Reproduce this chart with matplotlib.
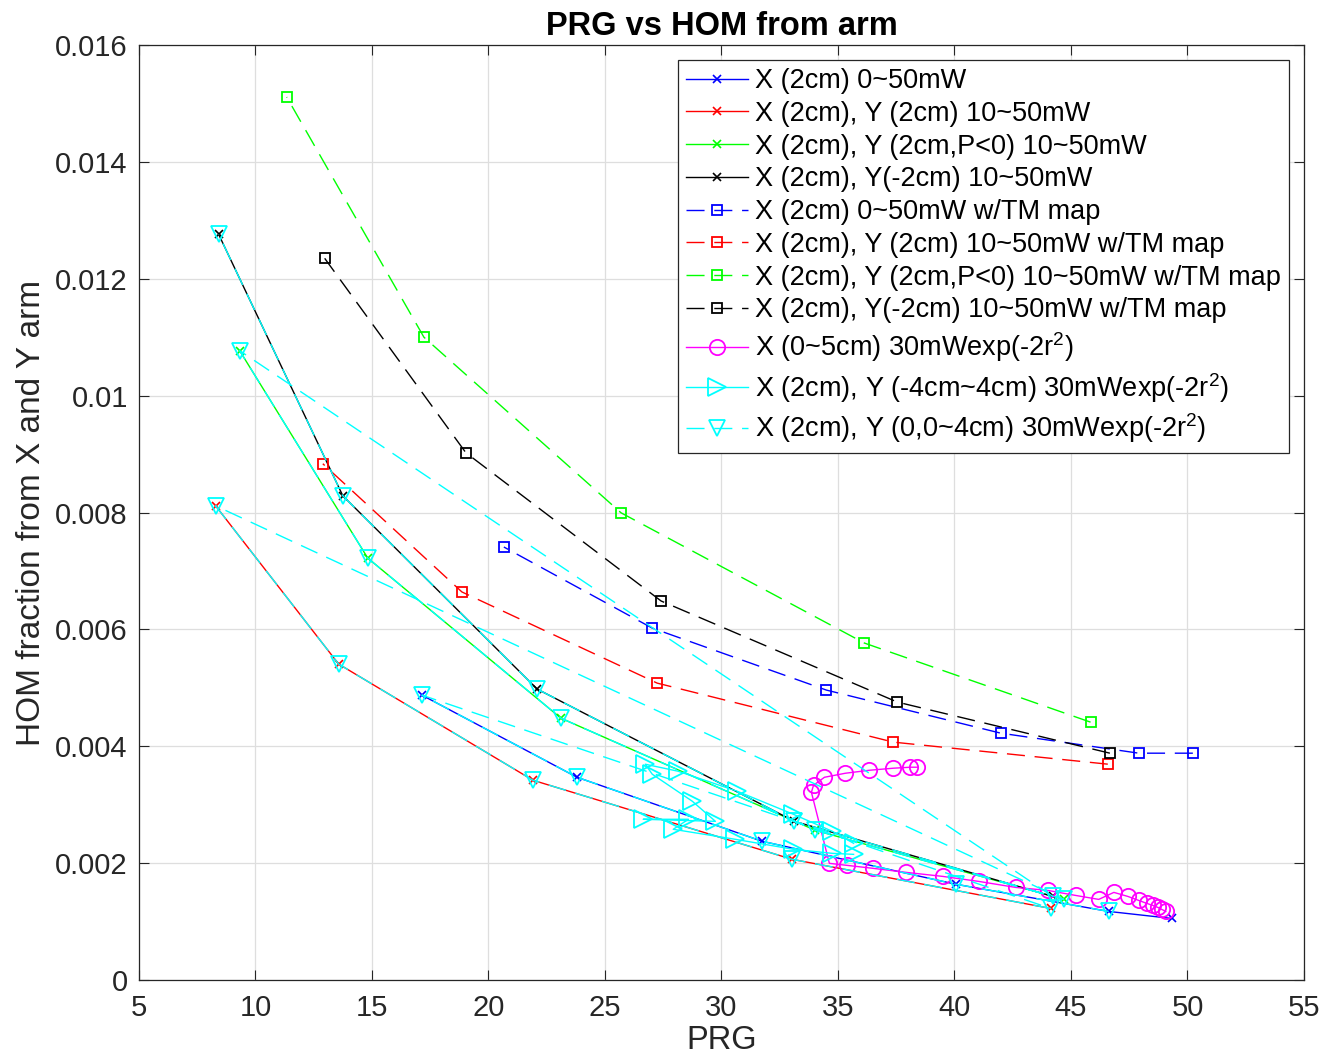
import numpy as np
import matplotlib
matplotlib.use("Agg")
import matplotlib.pyplot as plt

plt.rcParams['font.family'] = ['Liberation Sans', 'DejaVu Sans']
plt.rcParams['mathtext.fontset'] = 'custom'
plt.rcParams['mathtext.rm'] = 'Liberation Sans'
plt.rcParams['mathtext.it'] = 'Liberation Sans:italic'

# power sweeps, listed from lowest power (high PRG) to 50mW (low PRG)
blue_x_prg = [49.33, 46.62, 40.05, 31.75, 23.80, 17.14]
blue_x_hom = [0.001054, 0.001174, 0.00164, 0.002374, 0.00347, 0.004876]
red_x_prg = [44.13, 33.04, 21.91, 13.57, 8.29]
red_x_hom = [0.001225, 0.002065, 0.003419, 0.005407, 0.008115]
green_x_prg = [44.69, 34.03, 23.11, 14.82, 9.32]
green_x_hom = [0.00138, 0.002562, 0.004481, 0.00722, 0.01077]
black_x_prg = [44.22, 33.13, 22.09, 13.75, 8.42]
black_x_hom = [0.001431, 0.002716, 0.004979, 0.008286, 0.01276]

# with TM map
blue_sq_prg = [50.23, 47.91, 41.98, 34.50, 27.02, 20.66]
blue_sq_hom = [0.003882, 0.003882, 0.004225, 0.004962, 0.006024, 0.00741]
red_sq_prg = [46.58, 37.38, 27.24, 18.86, 12.89]
red_sq_hom = [0.003694, 0.004071, 0.005081, 0.006641, 0.008835]
green_sq_prg = [45.84, 36.13, 25.69, 17.23, 11.34]
green_sq_hom = [0.004413, 0.005767, 0.007995, 0.0110, 0.01511]
black_sq_prg = [46.67, 37.55, 27.41, 19.03, 12.97]
black_sq_hom = [0.003882, 0.004756, 0.006486, 0.009023, 0.01235]

# X (0~5cm) 30mW gaussian
mag_prg = [49.07, 48.90, 48.73, 48.51, 48.26, 47.91, 47.44, 46.84, 46.19, 45.20,
           44.00, 42.63, 41.04, 39.49, 37.94, 36.52, 35.40, 34.63, 33.86, 33.95,
           34.42, 35.32, 36.35, 37.38, 38.11, 38.41]
mag_hom = [0.001174, 0.001208, 0.001243, 0.001277, 0.001311, 0.001362, 0.001431,
           0.0015, 0.00138, 0.001448, 0.001534, 0.001585, 0.001688, 0.001774,
           0.001842, 0.001911, 0.001962, 0.001997, 0.003213, 0.003333, 0.00347,
           0.003539, 0.00359, 0.003625, 0.003642, 0.003642]

# X (2cm), Y (-4cm~4cm) 30mW gaussian
tri_prg = [35.67, 34.76, 33.09, 30.68, 28.14, 26.73, 27.03, 28.75, 29.74, 26.64,
           28.58, 27.93, 30.60, 33.09, 34.76, 35.67]
tri_hom = [0.00234, 0.002545, 0.002836, 0.00323, 0.003573, 0.003693, 0.003522,
           0.003059, 0.002716, 0.002751, 0.002751, 0.00258, 0.002408, 0.002237,
           0.002168, 0.002151]

# X (2cm), Y (0,0~4cm): the 10~50mW sweeps joined end to end
down_prg = blue_x_prg[1:] + red_x_prg + green_x_prg + black_x_prg
down_hom = blue_x_hom[1:] + red_x_hom + green_x_hom + black_x_hom

labels = ['X (2cm) 0~50mW',
          'X (2cm), Y (2cm) 10~50mW',
          'X (2cm), Y (2cm,P<0) 10~50mW',
          'X (2cm), Y(-2cm) 10~50mW',
          'X (2cm) 0~50mW w/TM map',
          'X (2cm), Y (2cm) 10~50mW w/TM map',
          'X (2cm), Y (2cm,P<0) 10~50mW w/TM map',
          'X (2cm), Y(-2cm) 10~50mW w/TM map',
          'X (0~5cm) 30mWexp(-2r$^{2}$)',
          'X (2cm), Y (-4cm~4cm) 30mWexp(-2r$^{2}$)',
          'X (2cm), Y (0,0~4cm) 30mWexp(-2r$^{2}$)']

xticks = [5, 10, 15, 20, 25, 30, 35, 40, 45, 50, 55]
yticks = [0, 0.002, 0.004, 0.006, 0.008, 0.01, 0.012, 0.014, 0.016]
ytick_labels = ['0', '0.002', '0.004', '0.006', '0.008', '0.01', '0.012', '0.014', '0.016']

fig = plt.figure(figsize=(13.26, 10.64), dpi=100)
ax = fig.add_axes([0.1048, 0.0789, 0.8786, 0.8788])

lw = 1.0
dash = (13, 7)
ax.plot(blue_x_prg, blue_x_hom, '-', color='b', marker='x', ms=6, mew=1.2, lw=lw, label=labels[0])
ax.plot(red_x_prg, red_x_hom, '-', color='r', marker='x', ms=6, mew=1.2, lw=lw, label=labels[1])
ax.plot(green_x_prg, green_x_hom, '-', color='#00ff00', marker='x', ms=6, mew=1.2, lw=lw, label=labels[2])
ax.plot(black_x_prg, black_x_hom, '-', color='k', marker='x', ms=6, mew=1.2, lw=lw, label=labels[3])

sq = dict(marker='s', ms=7, mfc='none', mew=1.3, lw=lw, dashes=dash)
ax.plot(blue_sq_prg, blue_sq_hom, color='b', label=labels[4], **sq)
ax.plot(red_sq_prg, red_sq_hom, color='r', label=labels[5], **sq)
ax.plot(green_sq_prg, green_sq_hom, color='#00ff00', label=labels[6], **sq)
ax.plot(black_sq_prg, black_sq_hom, color='k', label=labels[7], **sq)

ax.plot(mag_prg, mag_hom, '-', color='#ff00ff', marker='o', ms=11, mfc='none', mew=1.3, lw=lw, label=labels[8])
ax.plot(tri_prg, tri_hom, '-', color='#00ffff', marker='>', ms=13, mfc='none', mew=1.3, lw=lw, label=labels[9])
ax.plot(down_prg, down_hom, color='#00ffff', marker='v', ms=12, mfc='none', mew=1.3, lw=lw,
        dashes=dash, label=labels[10])

ax.set_xlim(5, 55)
ax.set_ylim(0, 0.016)
ax.set_xticks(xticks)
ax.set_yticks(yticks)
ax.set_yticklabels(ytick_labels)
ax.grid(True, color='#dedede', lw=0.9)
ax.set_axisbelow(True)
ax.tick_params(direction='in', top=True, right=True, length=7, width=0.8,
               labelsize=21, colors='#262626')
ax.tick_params(axis='x', pad=10)
ax.tick_params(axis='y', pad=8)
for s in ax.spines.values():
    s.set_color('#262626')
    s.set_linewidth(0.9)

ax.set_xlabel('PRG', fontsize=23.5, color='#262626', labelpad=2)
ax.set_ylabel('HOM fraction from X and Y arm', fontsize=24, color='#262626', labelpad=6)
ax.set_title('PRG vs HOM from arm', fontsize=23.5, fontweight='bold', pad=7)

leg = ax.legend(loc='upper right', fontsize=19.5, frameon=True, fancybox=False,
                framealpha=1, edgecolor='#262626', handlelength=2.3,
                handletextpad=0.25, labelspacing=0.25, borderaxespad=0.55,
                borderpad=0.3)
leg.get_frame().set_linewidth(0.9)

plt.savefig('out.png', dpi=100)
